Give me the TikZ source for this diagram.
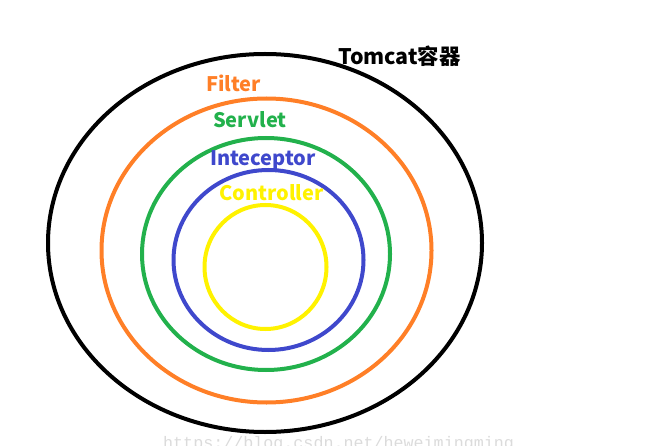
\documentclass[tikz,border=0pt]{standalone}
\usepackage{fontspec}
\usepackage{xcolor}
\setmainfont{Noto Sans CJK SC}
\setmonofont{Liberation Mono}

\definecolor{tomcatblack}{RGB}{0,0,0}
\definecolor{filterorange}{RGB}{255,127,39}
\definecolor{servletgreen}{RGB}{34,177,76}
\definecolor{interblue}{RGB}{63,72,204}
\definecolor{ctrlyellow}{RGB}{255,242,0}

\begin{document}
\begin{tikzpicture}[x=1pt,y=-1pt,
  layer/.style={line width=4pt},
  tag/.style={anchor=base west,inner sep=0pt,font=\fontsize{20}{20}\selectfont\bfseries}]
\useasboundingbox (0,0) rectangle (647,446);
\clip (0,0) rectangle (647,446);

% containers, outside to inside
\draw[layer,tomcatblack] (265,243) ellipse (217 and 189);
\draw[layer,filterorange] (266.5,250.5) ellipse (165 and 152);
\draw[layer,servletgreen] (266,254) ellipse (124 and 116);
\draw[layer,interblue] (268.5,260) ellipse (95 and 90);
\draw[layer,ctrlyellow] (265.5,267) ellipse (61 and 62);

% labels
\node[tag,tomcatblack,font=\fontsize{21.4}{21.4}\selectfont\bfseries] (tomcat) at (338,65) {Tomcat容器};
\node[tag,filterorange] (filter) at (206,92) {Filter};
\node[tag,servletgreen] (servlet) at (213,128) {Servlet};
\node[tag,interblue] (inter) at (210,166) {Inteceptor};
\node[tag,ctrlyellow] (ctrl) at (219,201) {Controller};

% watermark
\node[anchor=base west,inner sep=0pt,text=black!14,font=\fontsize{16.7}{16.7}\ttfamily] (mark) at (163,448) {https://blog.csdn.net/heweimingming};
\end{tikzpicture}
\end{document}
